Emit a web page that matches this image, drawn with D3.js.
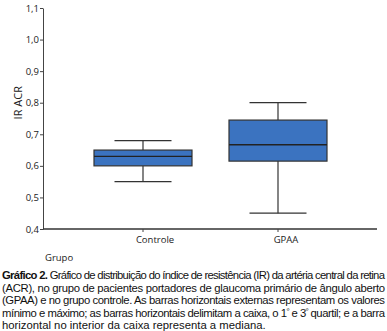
<!DOCTYPE html>
<html><head><meta charset="utf-8">
<script src="https://cdn.jsdelivr.net/npm/d3@7"></script>
<style>
body{margin:0;background:#fff;}
svg{display:block;}
</style></head>
<body><svg id="c" width="387" height="331"></svg>
<script>
const categories = ["Controle", "GPAA"];
const minVals    = [0.55, 0.45];
const q1Vals     = [0.60, 0.615];
const medianVals = [0.63, 0.667];
const q3Vals     = [0.65, 0.745];
const maxVals    = [0.68, 0.80];
const yTicks     = [0.4, 0.5, 0.6, 0.7, 0.8, 0.9, 1.0, 1.1];
const yLabel = "IR ACR";
const xLabel = "Grupo";
const captionBold = "Gráfico 2.";
const captionLines = [
  " Gráfico de distribuição do índice de resistência (IR) da artéria central da retina",
  "(ACR), no grupo de pacientes portadores de glaucoma primário de ângulo aberto",
  "(GPAA) e no grupo controle. As barras horizontais externas representam os valores",
  ["mínimo e máximo; as barras horizontais delimitam a caixa, o 1", "º", " e 3", "º", " quartil; e a barra"],
  "horizontal no interior da caixa representa a mediana."
];

const svg = d3.select("#c");
const y = d3.scaleLinear().domain([0.4, 1.1]).range([229, 8]);
const x = d3.scalePoint().domain(categories).range([143, 278]);
const axisX0 = 43, axisX1 = 377;
const boxW = 98, capW = 57;
const fill = "#3b73c0", stroke = "#333";

// y axis
const ya = svg.append("g").attr("transform", `translate(${axisX0},0)`)
  .call(d3.axisLeft(y).tickValues(yTicks).tickSize(3).tickSizeOuter(0)
    .tickFormat(d => d3.format(".1f")(d).replace(".", ",")));
ya.select(".domain").attr("stroke", "#444").attr("stroke-width", 1);
ya.selectAll(".tick line").attr("stroke", "#444");
ya.selectAll(".tick text").attr("font-family", "Open Sans, sans-serif").attr("font-size", 9.5).attr("fill", "#222").attr("x", -4);

// x axis
const xa = svg.append("g").attr("transform", `translate(0,${y(0.4)})`);
xa.append("line").attr("x1", axisX0).attr("x2", axisX1).attr("stroke", "#333").attr("stroke-width", 1.3);
xa.selectAll("line.t").data(categories).join("line").attr("class", "t")
  .attr("x1", d => x(d)).attr("x2", d => x(d)).attr("y1", 0).attr("y2", 3).attr("stroke", "#444");
xa.selectAll("text").data(categories).join("text")
  .attr("x", d => x(d) + (d === "GPAA" ? 8 : 12)).attr("y", 14)
  .attr("text-anchor", "middle").attr("font-family", "Open Sans, sans-serif").attr("font-size", 9.5).attr("fill", "#222")
  .text(d => d);

// y label
svg.append("text").attr("transform", `translate(22,${(y(0.75)+y(0.85))/2}) rotate(-90)`)
  .attr("text-anchor", "middle").attr("font-family", "Open Sans, sans-serif").attr("font-size", 11).attr("fill", "#222")
  .text(yLabel);
svg.append("text").attr("x", 45).attr("y", 261).attr("font-family", "Open Sans, sans-serif").attr("font-size", 9.5).attr("fill", "#222").text(xLabel);

// boxes
const g = svg.append("g");
categories.forEach((c, i) => {
  const cx = x(c);
  g.append("line").attr("x1", cx).attr("x2", cx).attr("y1", y(maxVals[i])).attr("y2", y(q3Vals[i])).attr("stroke", stroke).attr("stroke-width", 1.2);
  g.append("line").attr("x1", cx).attr("x2", cx).attr("y1", y(q1Vals[i])).attr("y2", y(minVals[i])).attr("stroke", stroke).attr("stroke-width", 1.2);
  g.append("line").attr("x1", cx - capW/2).attr("x2", cx + capW/2).attr("y1", y(maxVals[i])).attr("y2", y(maxVals[i])).attr("stroke", stroke).attr("stroke-width", 1.3);
  g.append("line").attr("x1", cx - capW/2).attr("x2", cx + capW/2).attr("y1", y(minVals[i])).attr("y2", y(minVals[i])).attr("stroke", stroke).attr("stroke-width", 1.3);
  g.append("rect").attr("x", cx - boxW/2).attr("width", boxW).attr("y", y(q3Vals[i])).attr("height", y(q1Vals[i]) - y(q3Vals[i]))
    .attr("fill", fill).attr("stroke", stroke).attr("stroke-width", 1.2);
  g.append("line").attr("x1", cx - boxW/2).attr("x2", cx + boxW/2).attr("y1", y(medianVals[i])).attr("y2", y(medianVals[i])).attr("stroke", "#222").attr("stroke-width", 1.4);
});

// caption
const cap = svg.append("g").attr("font-family", "Liberation Sans Narrow, Arial Narrow, sans-serif").attr("font-size", 11.3).attr("fill", "#111");
const baseY = 279, lh = 12.6, capX = 2, capW2 = 383;
captionLines.forEach((ln, i) => {
  const t = cap.append("text").attr("x", capX).attr("y", baseY + i*lh);
  if (i === 0) {
    t.append("tspan").attr("font-weight", "bold").text(captionBold);
    t.append("tspan").text(ln);
  } else if (Array.isArray(ln)) {
    ln.forEach((s, k) => {
      if (s === "º") t.append("tspan").attr("font-size", 7).attr("dy", -4).text(s);
      else t.append("tspan").attr("dy", k > 0 ? 4 : 0).text(s);
    });
  } else t.text(ln);
  if (i < captionLines.length - 1) t.attr("textLength", capW2).attr("lengthAdjust", "spacing");
});
</script></body></html>
